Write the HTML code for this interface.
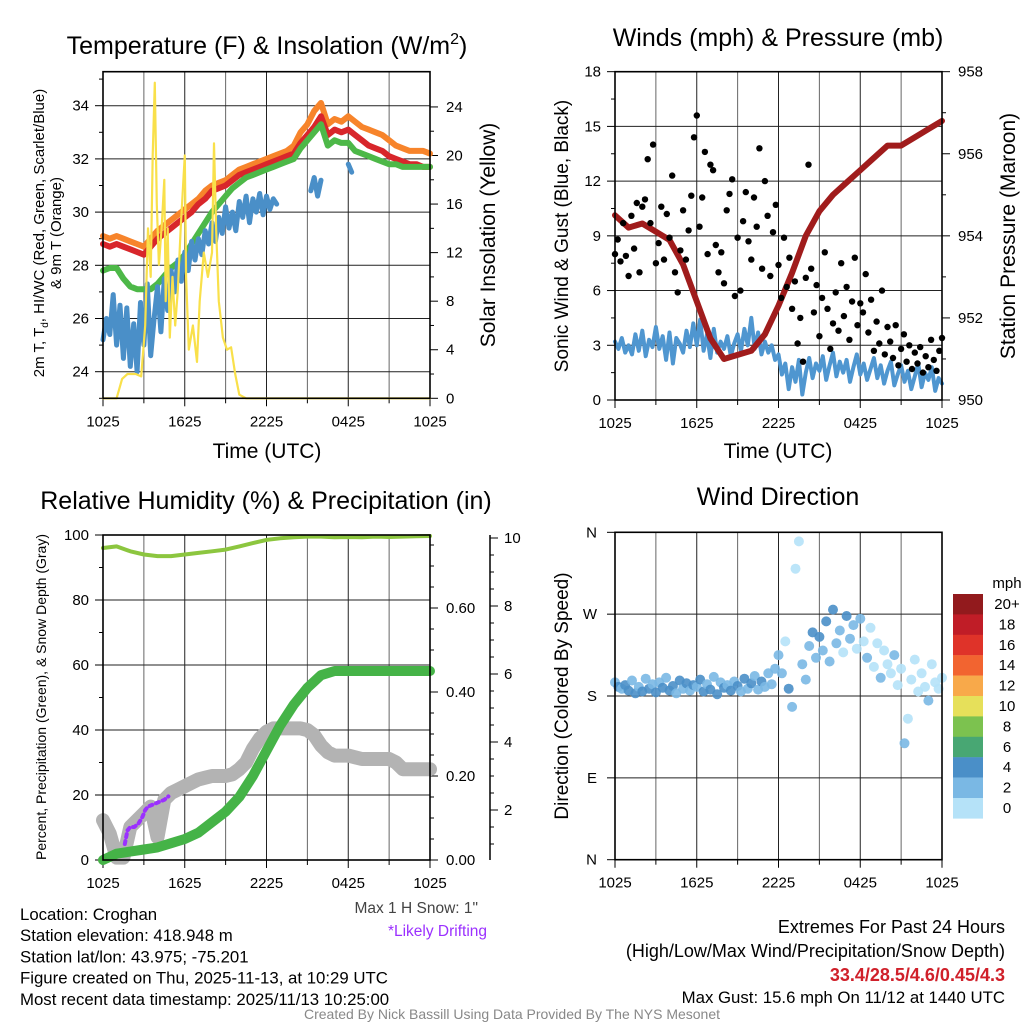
<!DOCTYPE html>
<html><head><meta charset="utf-8"><title>Croghan Mesonet</title>
<style>
html,body{margin:0;padding:0;background:#fff;}
svg{display:block;font-family:"Liberation Sans",Arial,sans-serif;}
</style></head>
<body>
<svg id="fig" width="1024" height="1024" viewBox="0 0 1024 1024"></svg>
<script>
// ---------- DATA ----------
const xTickLabels = ["1025","1625","2225","0425","1025"];
const xTickHours = [0,6,12,18,24];
// Panel 1 (half-hourly, h0..24)
const tempOrange = [29.1,29.0,29.1,29.0,28.9,28.8,28.7,29.0,29.3,29.5,29.7,29.9,30.1,30.3,30.5,30.8,31.0,31.1,31.2,31.4,31.6,31.7,31.8,31.9,32.0,32.1,32.2,32.3,32.5,33.0,33.3,33.8,34.1,33.3,33.5,33.4,33.6,33.4,33.2,33.1,33.0,32.9,32.7,32.5,32.4,32.3,32.3,32.3,32.2];
const tempRed = [28.8,28.7,28.8,28.7,28.6,28.5,28.4,28.7,29.0,29.2,29.4,29.6,29.8,30.0,30.3,30.5,30.8,30.9,31.0,31.2,31.4,31.5,31.6,31.7,31.8,31.9,32.0,32.1,32.2,32.6,32.9,33.2,33.6,32.9,33.1,33.0,33.1,32.9,32.7,32.5,32.4,32.3,32.1,32.0,31.9,31.8,31.8,31.7,31.7];
const tempGreen = [27.8,27.9,27.9,27.5,27.2,27.1,27.1,27.1,27.3,27.6,27.9,28.1,28.4,28.8,29.2,29.6,30.0,30.3,30.6,30.9,31.1,31.3,31.4,31.5,31.6,31.7,31.8,31.9,32.0,32.4,32.7,33.0,33.3,32.5,32.7,32.6,32.6,32.3,32.2,32.1,32.0,31.9,31.8,31.8,31.7,31.7,31.7,31.7,31.7];
// quarter-hourly, null = gap
const tempBlue = [25.2,26.0,25.4,26.9,25.0,26.5,24.5,26.4,24.2,25.8,24.0,26.6,25.0,27.3,24.6,26.0,27.2,25.5,27.5,26.3,27.8,27.0,28.2,27.4,28.5,27.8,28.9,28.2,29.0,28.4,29.3,28.8,29.6,28.9,29.8,29.2,30.2,29.4,30.0,29.3,30.4,29.8,30.6,29.6,30.5,30.0,30.7,29.9,30.6,30.1,30.5,30.3,null,null,null,null,null,null,null,null,null,30.8,31.3,30.6,31.2,null,null,null,null,null,null,null,31.8,31.5,null];
const insTimes = [0,1.0,1.4,1.8,2.4,2.8,3.1,3.3,3.5,3.65,3.8,3.95,4.1,4.3,4.5,4.6,4.75,4.9,5.1,5.3,5.5,5.7,5.9,6.0,6.1,6.3,6.6,6.9,7.1,7.4,7.7,8.0,8.15,8.3,8.5,8.8,9.1,9.4,9.7,10.0,10.5,24];
const insVals = [0,0,1.6,2,2,1.8,6,14,10,20,26,16,11,14,18,8,14,5,10,6,9,14,18,20,10,4,6,3,8,12,10,12,21,14,8,5,4,4.2,2,0.3,0,0];
// Panel 2
const windBlue = [3.2,2.8,3.4,2.6,3.0,2.5,3.6,2.7,3.8,2.4,3.3,2.9,4.0,2.8,3.5,2.2,3.7,2.0,3.4,3.1,2.6,3.8,2.9,4.2,3.0,4.4,2.7,3.6,2.3,3.9,2.6,3.2,2.8,3.5,2.4,3.1,3.6,2.7,3.9,3.0,4.5,2.8,3.7,2.5,3.2,2.6,3.0,2.2,2.5,1.4,2.0,0.6,1.8,1.0,2.2,0.3,1.5,2.3,1.2,2.0,1.6,2.4,1.1,1.9,2.6,1.3,2.1,1.5,2.2,1.0,1.8,2.5,1.4,2.0,1.1,1.7,2.3,1.2,1.9,0.9,1.6,2.1,0.8,1.4,1.9,1.0,1.6,0.6,1.3,2.0,0.7,1.5,1.1,1.8,0.5,1.2,0.9];
const gustVals = [8.0,8.8,7.6,9.7,7.9,6.8,10.1,8.3,10.8,7.0,10.6,11.0,13.2,9.7,14.0,7.5,8.6,10.6,7.7,10.2,8.9,12.3,7.0,5.9,8.2,10.4,7.7,9.3,11.2,14.4,15.6,9.5,11.1,13.6,8.0,12.9,12.6,8.5,7.0,8.1,6.4,10.4,11.3,12.1,5.7,8.9,6.0,9.8,11.4,8.7,7.7,11.1,9.5,13.8,7.2,12.0,10.1,6.8,9.2,10.7,7.4,5.6,8.9,6.2,7.8,5.0,6.5,3.1,4.5,2.1,6.7,12.9,7.2,4.8,6.3,3.5,5.6,8.1,5.0,2.8,4.2,5.9,3.8,7.5,4.6,6.2,3.3,5.4,7.8,4.1,5.3,4.8,6.9,3.7,5.5,2.7,4.3,3.1,6.0,2.5,4.0,3.2,2.3,4.1,1.9,2.8,3.6,2.1,3.0,1.7,2.6,2.0,2.9,1.5,2.4,1.8,3.3,2.2,1.6,2.7,3.4];
const pressure = [954.5,954.2,954.3,954.1,953.9,953.3,952.4,951.5,951.0,951.1,951.2,951.6,952.3,953.1,954.0,954.6,955.0,955.3,955.6,955.9,956.2,956.2,956.4,956.6,956.8];
// Panel 3
const rhVals = [96,96.5,95,94,93.5,93.5,94,94.5,95,95.5,96.5,97.5,98.5,99,99.3,99.5,99.5,99.3,99.4,99.3,99.5,99.4,99.5,99.6,99.7];
const precipVals = [0,0.015,0.02,0.025,0.03,0.04,0.05,0.065,0.09,0.115,0.15,0.2,0.26,0.32,0.37,0.41,0.44,0.45,0.45,0.45,0.45,0.45,0.45,0.45,0.45];
const snowVals = [1.7,1.3,0.6,0.6,1.5,1.7,1.9,2.1,1.2,2.3,2.5,2.6,2.7,2.8,2.9,2.95,3.0,3.0,3.0,3.05,3.2,3.4,3.8,4.1,4.3,4.4,4.4,4.4,4.4,4.4,4.35,4.2,3.9,3.7,3.6,3.6,3.6,3.55,3.5,3.5,3.5,3.5,3.5,3.4,3.2,3.2,3.2,3.2,3.2];
const driftTimes = [1.6,1.8,2.0,2.3,2.6,2.9,3.1,3.3,4.5,4.8];
const driftVals = [1.0,1.4,1.5,1.5,1.6,1.8,2.0,2.1,2.3,2.4];
// Panel 4 (quarter-hourly)
const dirVals = [195,190,188,192,186,197,183,190,185,199,188,193,184,195,189,200,186,191,183,197,188,194,186,192,190,198,185,193,187,201,182,195,189,192,186,196,191,185,199,188,194,202,187,196,190,205,193,210,225,205,240,188,168,320,350,215,198,235,250,222,245,230,262,218,275,238,252,228,268,243,258,232,265,240,222,255,212,238,200,230,215,205,225,192,210,128,155,198,220,185,205,190,175,215,195,188,200];
const spdVals = [3,5,3,4,5,3,5,3,4,3,5,3,4,3,5,3,4,5,3,4,3,5,3,4,3,4,5,3,5,3,4,3,5,3,4,3,5,3,4,3,5,3,3,4,3,2,3,2,2,3,1,4,2,1,1,3,2,3,4,2,4,3,5,2,4,2,3,1,4,2,3,1,2,1,2,1,0,1,2,1,0,1,2,0,1,2,0,1,0,1,0,1,2,0,1,0,1];
const cbLabels = ["20+","18","16","14","12","10","8","6","4","2","0"];
const cbColors = ["#921a1d","#c01d27","#df3329","#f26430","#f8a94a","#e6e05a","#7cc24f","#48a773","#4a8fc8","#7ab8e4","#b5e2f8"];

// ---------- HELPERS ----------
const NS = "http://www.w3.org/2000/svg";
const svg = document.getElementById("fig");
function add(tag, name, attrs, parent){
  const el = document.createElementNS(NS, tag);
  for (const k in attrs) el.setAttribute(k, attrs[k]);
  
  
  (parent||svg).appendChild(el);
  return el;
}
function txt(name, x, y, s, size, anchor, extra){
  const a = Object.assign({x:x, y:y, 'font-size':size, 'text-anchor':anchor||'middle', fill:'#000'}, extra||{});
  const el = add('text', name, a);
  el.textContent = s;
  return el;
}
function ln(name, x1,y1,x2,y2,stroke,w){
  return add('line', name, {x1:x1,y1:y1,x2:x2,y2:y2,stroke:stroke||'#000','stroke-width':w||1});
}
function series(name, xs, ys, stroke, w, extra){
  let d = '', pen = false;
  for (let i=0;i<xs.length;i++){
    if (ys[i]===null || ys[i]===undefined){ pen=false; continue; }
    d += (pen?'L':'M') + xs[i].toFixed(1) + ' ' + ys[i].toFixed(1) + ' ';
    pen = true;
  }
  return add('path', name, Object.assign({d:d, fill:'none', stroke:stroke, 'stroke-width':w, 'stroke-linejoin':'round','stroke-linecap':'round'}, extra||{}));
}
function frame(name, X0,X1,Y0,Y1, xs){
  for (let h=3; h<24; h+=3) ln(name+'-vgrid', xs(h), Y1, xs(h), Y0, h%6===0?'#222':'#666', 1);
  for (let h=0; h<=24; h+=3) ln(name+'-xtick', xs(h), Y0, xs(h), Y0+(h%6===0?8:5), '#000', 1);
  xTickHours.forEach((h,i)=> txt(name+'-xtick-label', xs(h), Y0+28, xTickLabels[i], 15));
}

// ---------- PANEL 1 ----------
(function(){
  const X0=103,X1=430,Y0=398.3,Y1=71.7;
  const xs = h => X0 + h/24*(X1-X0);
  const yT = t => Y0 - (t-23)*26.6;
  const yI = v => Y0 - v*12.14;
  frame('temp-panel', X0,X1,Y0,Y1, xs);
  for (let t=24;t<=34;t+=2){ ln('temp-hgrid', X0, yT(t), X1, yT(t), '#222', 1); }
  for (let t=23;t<=35;t++){ ln('temp-ytick', X0-(t%2===0?8:4), yT(t), X0, yT(t)); if(t%2===0) txt('temp-ytick-label', X0-14, yT(t)+5, String(t), 15, 'end'); }
  for (let v=0;v<=24;v+=2){ ln('insolation-ytick', X1, yI(v), X1+(v%4===0?8:4), yI(v)); if(v%4===0) txt('insolation-ytick-label', X1+16, yI(v)+5, String(v), 15, 'start'); }
  const half = tempOrange.map((_,i)=>xs(i*0.5));
  series('temp-9m-orange', half, tempOrange.map(yT), '#f7842b', 6);
  series('temp-2m-red', half, tempRed.map(yT), '#d8262b', 6);
  series('dewpoint-green', half, tempGreen.map(yT), '#4db848', 6);
  series('windchill-blue', tempBlue.map((_,i)=>xs(i*0.25)), tempBlue.map(v=>v===null?null:yT(v)), '#4a8fc8', 5);
  series('insolation-yellow', insTimes.map(xs), insVals.map(yI), '#f9e04a', 2.2);
  add('rect','temp-plot-frame',{x:X0,y:Y1,width:X1-X0,height:Y0-Y1,fill:'none',stroke:'#000','stroke-width':1.6});
  const t = txt('temp-title', 267, 54, 'Temperature (F) & Insolation (W/m', 25);
  const sup = document.createElementNS(NS,'tspan'); sup.setAttribute('dy','-10'); sup.setAttribute('font-size','16'); sup.textContent='2'; t.appendChild(sup);
  const cl = document.createElementNS(NS,'tspan'); cl.setAttribute('dy','10'); cl.textContent=')'; t.appendChild(cl);
  txt('time-axis-title', 267, 458, 'Time (UTC)', 21);
  const yt = txt('temp-y-title', 44, 233, '2m T, T', 15, 'middle', {transform:'rotate(-90 44 233)'});
  const sub = document.createElementNS(NS,'tspan'); sub.setAttribute('dy','4'); sub.setAttribute('font-size','10'); sub.textContent='d'; yt.appendChild(sub);
  const rest = document.createElementNS(NS,'tspan'); rest.setAttribute('dy','-4'); rest.textContent=', HI/WC (Red, Green, Scarlet/Blue)'; yt.appendChild(rest);
  txt('temp-y-title-2', 61, 233, '& 9m T (Orange)', 15, 'middle', {transform:'rotate(-90 61 233)'});
  txt('insolation-y-title', 495, 235, 'Solar Insolation (Yellow)', 21, 'middle', {transform:'rotate(-90 495 235)'});
})();

// ---------- PANEL 2 ----------
(function(){
  const X0=615,X1=942,Y0=400,Y1=71.7;
  const xs = h => X0 + h/24*(X1-X0);
  const yW = v => Y0 - v*18.24;
  const yP = p => Y0 - (p-950)*41.04;
  frame('wind-panel', X0,X1,Y0,Y1, xs);
  for (let v=3;v<18;v+=3) ln('wind-hgrid', X0, yW(v), X1, yW(v), '#222', 1);
  for (let v=0;v<=18;v+=1.5){ const maj = v%3===0; ln('wind-ytick', X0-(maj?8:4), yW(v), X0, yW(v)); if(maj) txt('wind-ytick-label', X0-14, yW(v)+5, String(v), 15, 'end'); }
  for (let p=950;p<=958;p+=1){ const maj=p%2===0; ln('pressure-ytick', X1, yP(p), X1+(maj?8:4), yP(p)); if(maj) txt('pressure-ytick-label', X1+16, yP(p)+5, String(p), 15, 'start'); }
  series('sonic-wind-blue', windBlue.map((_,i)=>xs(i*0.25)), windBlue.map(yW), '#4f96d0', 4);
  series('pressure-maroon', pressure.map((_,i)=>xs(i)), pressure.map(yP), '#a01c1c', 6);
  gustVals.forEach((v,i)=>{
    add('circle','gust-point',{cx:xs(i*0.2).toFixed(1), cy:yW(v).toFixed(1), r:3.2, fill:'#000'});
  });
  add('rect','wind-plot-frame',{x:X0,y:Y1,width:X1-X0,height:Y0-Y1,fill:'none',stroke:'#000','stroke-width':1.6});
  txt('wind-title', 778, 46, 'Winds (mph) & Pressure (mb)', 25);
  txt('wind-time-axis-title', 778, 458, 'Time (UTC)', 21);
  txt('wind-y-title', 568, 236, 'Sonic Wind & Gust (Blue, Black)', 19, 'middle', {transform:'rotate(-90 568 236)'});
  txt('pressure-y-title', 1015, 236, 'Station Pressure (Maroon)', 21, 'middle', {transform:'rotate(-90 1015 236)'});
})();

// ---------- PANEL 3 ----------
(function(){
  const X0=103,X1=430,Y0=860,Y1=535;
  const xs = h => X0 + h/24*(X1-X0);
  const yR = v => Y0 - v*3.25;
  const yPr = v => Y0 - v*420;
  const yS = v => 878 - v*34;
  frame('rh-panel', X0,X1,Y0,Y1, xs);
  for (let v=20;v<100;v+=20) ln('rh-hgrid', X0, yR(v), X1, yR(v), '#222', 1);
  for (let v=0;v<=100;v+=10){ const maj=v%20===0; ln('rh-ytick', X0-(maj?8:4), yR(v), X0, yR(v)); if(maj) txt('rh-ytick-label', X0-14, yR(v)+5, String(v), 15, 'end'); }
  for (let v=0;v<=0.77;v+=0.05){ const k=Math.round(v*100); const maj=k%20===0; ln('precip-ytick', X1, yPr(v), X1+(maj?8:4), yPr(v)); if(maj) txt('precip-ytick-label', X1+16, yPr(v)+5, (k/100).toFixed(2), 15, 'start'); }
  ln('snow-axis-line', 490, 535, 490, 860, '#000', 1.5);
  for (let v=1;v<=10;v+=0.5){ const maj=v%2===0; ln('snow-ytick', 490, yS(v), 490+(maj?8:4), yS(v)); if(maj) txt('snow-ytick-label', 504, yS(v)+5, String(v), 15, 'start'); }
  const half = snowVals.map((_,i)=>xs(i*0.5));
  series('snow-depth-gray', half, snowVals.map(yS), '#b3b3b3', 14);
  series('likely-drifting-purple', driftTimes.map(xs), driftVals.map(yS), '#9b30ff', 4, {'stroke-dasharray':'3 4'});
  series('precip-green', precipVals.map((_,i)=>xs(i)), precipVals.map(yPr), '#45b347', 10);
  series('rh-green', rhVals.map((_,i)=>xs(i)), rhVals.map(yR), '#8cc63f', 4);
  add('rect','rh-plot-frame',{x:X0,y:Y1,width:X1-X0,height:Y0-Y1,fill:'none',stroke:'#000','stroke-width':1.6});
  txt('rh-title', 266, 509, 'Relative Humidity (%) & Precipitation (in)', 25);
  txt('rh-y-title', 46, 697, 'Percent, Precipitation (Green), & Snow Depth (Gray)', 14, 'middle', {transform:'rotate(-90 46 697)'});
})();

// ---------- PANEL 4 ----------
(function(){
  const X0=615,X1=942,Y0=859.7,Y1=532.3;
  const xs = h => X0 + h/24*(X1-X0);
  const yD = d => Y0 - d*0.9094;
  frame('dir-panel', X0,X1,Y0,Y1, xs);
  const dl = ['N','E','S','W','N'];
  for (let i=0;i<=4;i++){ const y=yD(i*90); if(i>0&&i<4) ln('dir-hgrid', X0, y, X1, y, '#222', 1); ln('dir-ytick', X0-8, y, X0, y); txt('dir-ytick-label', X0-18, y+5, dl[i], 15, 'end'); }
  dirVals.forEach((d,i)=>{
    const bin = Math.min(10, Math.floor(spdVals[i]/2));
    add('circle','direction-point',{cx:xs(i*0.25).toFixed(1), cy:yD(d).toFixed(1), r:5, fill:cbColors[10-bin], 'fill-opacity':0.9});
  });
  add('rect','dir-plot-frame',{x:X0,y:Y1,width:X1-X0,height:Y0-Y1,fill:'none',stroke:'#000','stroke-width':1.6});
  txt('dir-title', 778, 505, 'Wind Direction', 25);
  txt('dir-y-title', 568, 696, 'Direction (Colored By Speed)', 19, 'middle', {transform:'rotate(-90 568 696)'});
  txt('colorbar-unit', 1007, 588, 'mph', 15, 'middle');
  cbColors.forEach((c,i)=>{
    add('rect','colorbar-cell',{x:953, y:(594+i*20.4).toFixed(1), width:30, height:20.6, fill:c});
    txt('colorbar-label', 1007, 594+i*20.4+15, cbLabels[i], 15, 'middle');
  });
})();

// ---------- FOOTER TEXT ----------
["Location: Croghan","Station elevation: 418.948 m","Station lat/lon: 43.975; -75.201","Figure created on Thu, 2025-11-13, at 10:29 UTC","Most recent data timestamp: 2025/11/13 10:25:00"].forEach((s,i)=>{
  txt('station-info-line', 20, 920+i*21.2, s, 16.8, 'start');
});
txt('max-snow-note', 478, 913, 'Max 1 H Snow: 1"', 15.5, 'end', {fill:'#444'});
txt('drifting-note', 487, 936, '*Likely Drifting', 15.5, 'end', {fill:'#9b30ff'});
txt('extremes-header', 1005, 933, 'Extremes For Past 24 Hours', 18, 'end');
txt('extremes-legend', 1005, 957, '(High/Low/Max Wind/Precipitation/Snow Depth)', 18, 'end');
txt('extremes-values', 1005, 981, '33.4/28.5/4.6/0.45/4.3', 18, 'end', {fill:'#d0202a','font-weight':'bold'});
txt('max-gust-text', 1005, 1003, 'Max Gust: 15.6 mph On 11/12 at 1440 UTC', 16.8, 'end');
txt('credits', 512, 1019, 'Created By Nick Bassill Using Data Provided By The NYS Mesonet', 14, 'middle', {fill:'#888'});
</script>
</body></html>
